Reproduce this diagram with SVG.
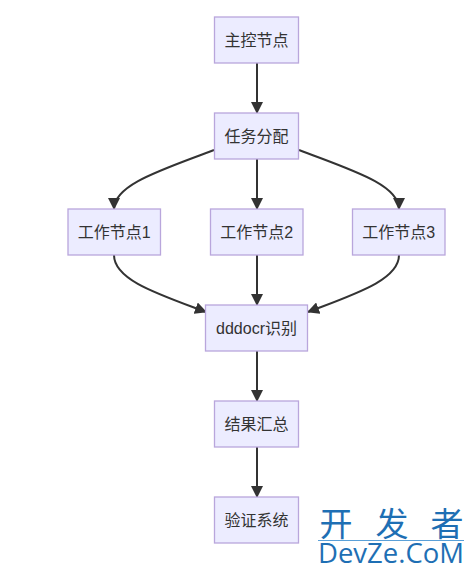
<svg xmlns="http://www.w3.org/2000/svg" width="474" height="575" viewBox="0 0 474 575">
<style>
.n{fill:#ECECFF;stroke:#B9A6DC;stroke-width:1.3}
.t{font-family:"Liberation Sans","Noto Sans CJK SC",sans-serif;font-size:16px;fill:#333;text-anchor:middle}
.e{fill:none;stroke:#333;stroke-width:2}
.w{font-family:"Noto Sans CJK SC",sans-serif;font-size:33px;fill:#1E6FB4;text-anchor:middle}
</style>
<defs><marker id="a" markerUnits="userSpaceOnUse" markerWidth="12" markerHeight="12" refX="11" refY="6" orient="auto"><path d="M0 0L12 6L0 12Z" fill="#333"/></marker></defs>
<rect width="474" height="575" fill="#fff"/>
<g id="connectors">
<path class="e" marker-end="url(#a)" d="M257 63V113"/>
<path class="e" marker-end="url(#a)" d="M214 150C165 169 114 184 114 209"/>
<path class="e" marker-end="url(#a)" d="M257 159V209"/>
<path class="e" marker-end="url(#a)" d="M299 150C348 169 399 184 399 209"/>
<path class="e" marker-end="url(#a)" d="M114 255C114 280 158 294 206 312"/>
<path class="e" marker-end="url(#a)" d="M257 255V305"/>
<path class="e" marker-end="url(#a)" d="M399 255C399 280 355 294 308 312"/>
<path class="e" marker-end="url(#a)" d="M257 351V401"/>
<path class="e" marker-end="url(#a)" d="M257 447V497"/>
</g>
<g id="n1"><rect class="n" x="214.500" y="17" width="84" height="46"/><text class="t" x="256.500" y="45.500">主控节点</text></g>
<g id="n2"><rect class="n" x="214.500" y="113" width="84" height="46"/><text class="t" x="256.500" y="141.500">任务分配</text></g>
<g id="n3"><rect class="n" x="68" y="209" width="92.500" height="46"/><text class="t" x="114.300" y="237.500">工作节点1</text></g>
<g id="n4"><rect class="n" x="210.500" y="209" width="92.500" height="46"/><text class="t" x="256.800" y="237.500">工作节点2</text></g>
<g id="n5"><rect class="n" x="352.500" y="209" width="92.500" height="46"/><text class="t" x="398.800" y="237.500">工作节点3</text></g>
<g id="n6"><rect class="n" x="205.500" y="305" width="102" height="46"/><text class="t" x="256.500" y="333.500">dddocr识别</text></g>
<g id="n7"><rect class="n" x="214.500" y="401" width="84" height="46"/><text class="t" x="256.500" y="429.500">结果汇总</text></g>
<g id="n8"><rect class="n" x="214.500" y="497" width="84" height="46"/><text class="t" x="256.500" y="525.500">验证系统</text></g>
<g id="watermark">
<text class="w" x="336" y="536">开</text>
<text class="w" x="392" y="536">发</text>
<text class="w" x="447" y="536">者</text>
<line x1="318" y1="540.500" x2="464" y2="540.500" stroke="#5AA0D8" stroke-width="1"/>
<text x="318" y="563" font-family="'Open Sans',sans-serif" font-size="28px" fill="#1E6FB4" textLength="146" lengthAdjust="spacingAndGlyphs">DevZe.CoM</text>
</g>
</svg>
